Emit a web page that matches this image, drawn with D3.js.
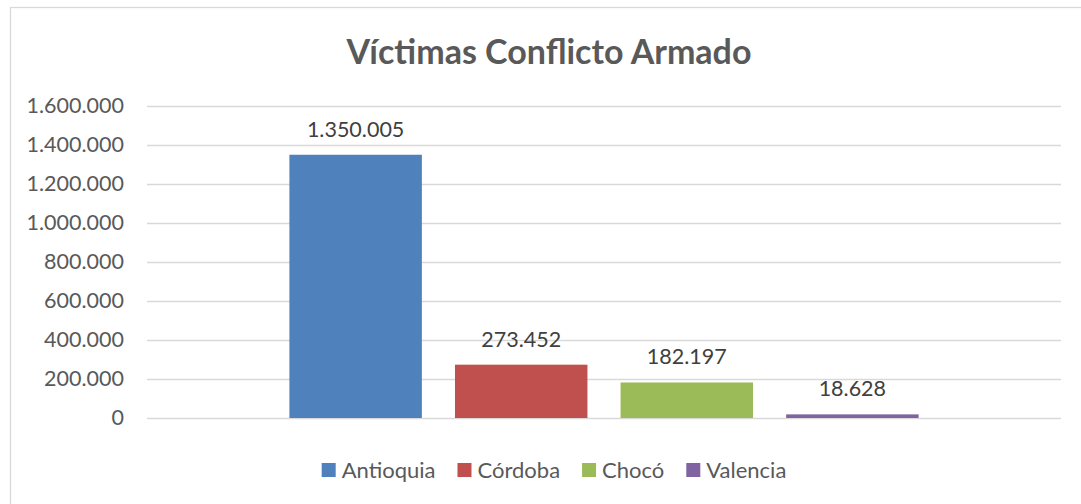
<!DOCTYPE html>
<html>
<head>
<meta charset="utf-8">
<script src="https://cdn.jsdelivr.net/npm/d3@7"></script>
<style>
  body { margin: 0; background: #fff; }
  svg text { font-family: Lato, "Open Sans", sans-serif; }
</style>
</head>
<body>
<div id="chart"></div>
<script>
// Chart data
const title = 'Víctimas Conflicto Armado';
const series = ['Antioquia', 'Córdoba', 'Chocó', 'Valencia'];
const values = [1350005, 273452, 182197, 18628];
const colors = ['#4F81BD', '#C0504D', '#9BBB59', '#8064A2'];
const yTicks = [0, 200000, 400000, 600000, 800000, 1000000, 1200000, 1400000, 1600000];

const width = 1081, height = 504;
const plot = { left: 147, right: 1061, top: 106, bottom: 418 };

// Spanish style thousands separator
const fmt = d3.formatLocale({ decimal: ',', thousands: '.', grouping: [3], currency: ['', ''] }).format(',d');

const svg = d3.select('#chart').append('svg')
    .attr('width', width)
    .attr('height', height);

// Chart border
svg.append('rect')
    .attr('x', 10.5).attr('y', 7.5)
    .attr('width', width + 20).attr('height', height + 20)
    .attr('fill', '#fff')
    .attr('stroke', '#d9d9d9')
    .attr('stroke-width', 1.3);

// Title
svg.append('text')
    .attr('x', 549).attr('y', 64)
    .attr('text-anchor', 'middle')
    .attr('font-size', '34px')
    .attr('font-weight', 'bold')
    .attr('fill', '#595959')
    .text(title);

const y = d3.scaleLinear()
    .domain([0, 1600000])
    .range([plot.bottom, plot.top]);

const x = d3.scaleBand()
    .domain(series)
    .range([plot.left, plot.right])
    .paddingInner(0.2)
    .paddingOuter(0.86);

// Gridlines + labels via axis
const yAxis = svg.append('g')
    .attr('transform', `translate(${plot.left},0)`)
    .call(d3.axisLeft(y).tickValues(yTicks).tickFormat(fmt)
        .tickSize(-(plot.right - plot.left)).tickPadding(23));
yAxis.select('.domain').remove();
yAxis.selectAll('.tick line')
    .attr('stroke', '#d9d9d9')
    .attr('stroke-width', 1.5);
yAxis.selectAll('.tick text')
    .attr('fill', '#595959')
    .attr('font-size', '21.5px')
    .attr('font-family', 'Lato, sans-serif');

// Bars
svg.selectAll('.bar')
    .data(series)
    .enter().append('rect')
    .attr('class', 'bar')
    .attr('x', d => x(d))
    .attr('width', x.bandwidth())
    .attr('y', (d, i) => y(values[i]))
    .attr('height', (d, i) => y(0) - y(values[i]))
    .attr('fill', (d, i) => colors[i]);

// Data labels
svg.selectAll('.val')
    .data(series)
    .enter().append('text')
    .attr('class', 'val')
    .attr('x', d => x(d) + x.bandwidth() / 2)
    .attr('y', (d, i) => y(values[i]) - 18)
    .attr('text-anchor', 'middle')
    .attr('font-size', '21.5px')
    .attr('fill', '#404040')
    .text((d, i) => fmt(values[i]));

// Legend
const legend = svg.append('g');
const items = legend.selectAll('g')
    .data(series)
    .enter().append('g');
items.append('rect')
    .attr('width', 14).attr('height', 14)
    .attr('y', -15)
    .attr('fill', (d, i) => colors[i]);
items.append('text')
    .attr('x', 20)
    .attr('y', 0)
    .attr('font-size', '22px')
    .attr('fill', '#595959')
    .text(d => d);
let lx = 0;
items.each(function() {
    d3.select(this).attr('transform', `translate(${lx},0)`);
    lx += this.getBBox().width + 22;
});
lx -= 22;
legend.attr('transform', `translate(${554 - lx / 2},478)`);
</script>
</body>
</html>
